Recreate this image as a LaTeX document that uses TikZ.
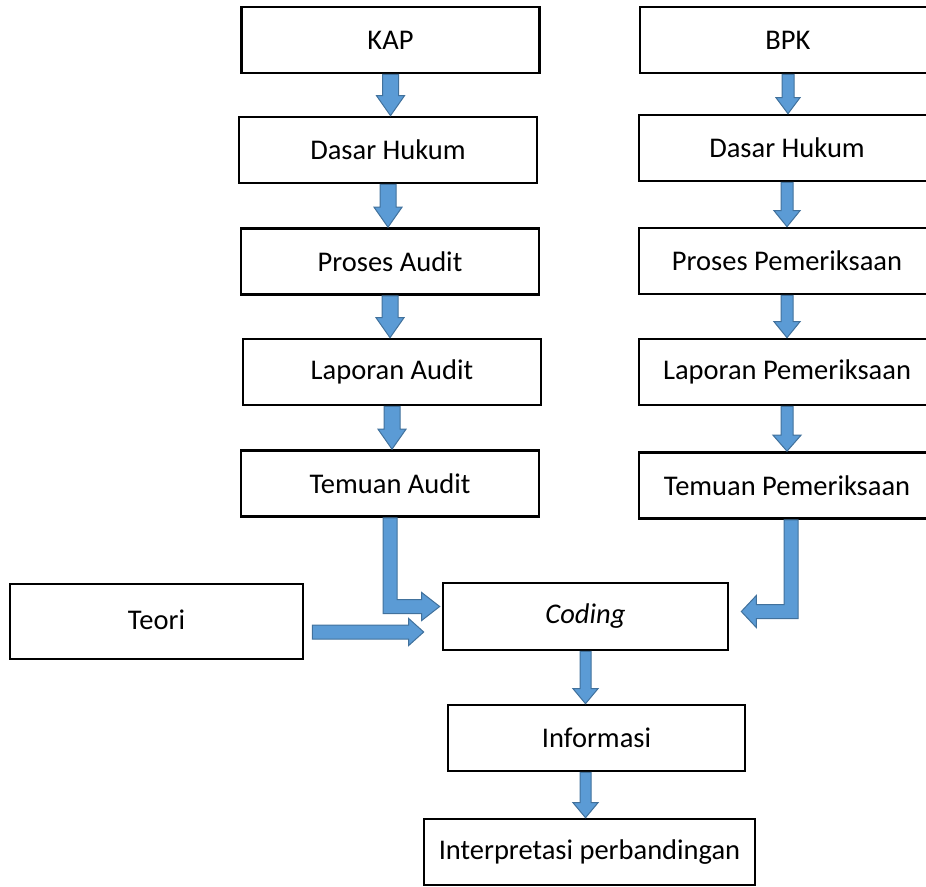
\documentclass[tikz,border=0pt]{standalone}
\usepackage{fontspec}
\setmainfont{Carlito}
\usepackage{tikz}
\usetikzlibrary{calc}

\definecolor{arrfill}{HTML}{5B9BD5}
\definecolor{arrline}{HTML}{41719C}

\tikzset{
  box/.style={draw, line width=2.6pt, minimum width=298pt, minimum height=66pt, inner sep=0pt, font=\fontsize{28.5}{33}\selectfont},
  blockarrow/.style={fill=arrfill, draw=arrline, line width=1pt, line join=miter}
}

% vertical block arrow: from, to, half shaft, half head, head length
\newcommand{\vblock}[5]{%
  \filldraw[blockarrow] let \p1=#1, \p2=#2 in
    (\x1-#3,\y1) -- (\x1+#3,\y1) -- (\x1+#3,\y2+#5) -- (\x1+#4,\y2+#5) -- (\x1,\y2)
    -- (\x1-#4,\y2+#5) -- (\x1-#3,\y2+#5) -- cycle;}
% horizontal block arrow to the right: from, to, half shaft, half head, head length
\newcommand{\hblock}[5]{%
  \filldraw[blockarrow] let \p1=#1, \p2=#2 in
    (\x1,\y1+#3) -- (\x2-#5,\y1+#3) -- (\x2-#5,\y1+#4) -- (\x2,\y1) -- (\x2-#5,\y1-#4)
    -- (\x2-#5,\y1-#3) -- (\x1,\y1-#3) -- cycle;}
% corner arrow, down then right
\newcommand{\lblockright}[2]{%
  \filldraw[blockarrow] let \p1=#1, \p2=#2 in
    (\x1-7pt,\y1) -- (\x1+7pt,\y1) -- (\x1+7pt,\y2+7pt) -- (\x2-18pt,\y2+7pt) -- (\x2-18pt,\y2+14pt)
    -- (\x2,\y2) -- (\x2-18pt,\y2-14pt) -- (\x2-18pt,\y2-7pt) -- (\x1-7pt,\y2-7pt) -- cycle;}
% corner arrow, down then left
\newcommand{\lblockleft}[2]{%
  \filldraw[blockarrow] let \p1=#1, \p2=#2 in
    (\x1+7pt,\y1) -- (\x1-7pt,\y1) -- (\x1-7pt,\y2+7pt) -- (\x2+15pt,\y2+7pt) -- (\x2+15pt,\y2+16pt)
    -- (\x2,\y2) -- (\x2+15pt,\y2-16pt) -- (\x2+15pt,\y2-7pt) -- (\x1+7pt,\y2-7pt) -- cycle;}

\begin{document}
\begin{tikzpicture}[x=1pt, y=-1pt]
	\useasboundingbox (0,0) rectangle (926,886);
	\clip (0,0) rectangle (926,886);

	% KAP column
	\node[box] (kap) at (390.5,40) {KAP};
	\node[box] (dh1) at (388,150) {Dasar Hukum};
	\node[box] (pa) at (390,261.5) {Proses Audit};
	\node[box] (la) at (392,372) {Laporan Audit};
	\node[box] (ta) at (390,483.5) {Temuan Audit};

	% BPK column
	\node[box, minimum width=296pt] (bpk) at (788,40) {BPK};
	\node[box, minimum width=296pt] (dh2) at (787,148) {Dasar Hukum};
	\node[box, minimum width=296pt] (pp) at (787,261) {Proses Pemeriksaan};
	\node[box, minimum width=296pt] (lp) at (787,372) {Laporan Pemeriksaan};
	\node[box, minimum width=296pt] (tp) at (787,485.5) {Temuan Pemeriksaan};

	% bottom part
	\node[box, minimum width=293pt, minimum height=75pt] (teori) at (156.5,621.5) {\raisebox{3pt}{Teori}};
	\node[box, minimum width=285pt, minimum height=67pt] (coding) at (585.5,616.5) {\textit{Coding}};
	\node[box, minimum width=297pt] (info) at (596.5,738) {Informasi};
	\node[box, minimum width=331pt] (interp) at (589.5,852) {Interpretasi perbandingan};

	\vblock{(kap.south)}{(dh1.north)}{8pt}{14pt}{20pt}
	\vblock{(dh1.south)}{(pa.north)}{8pt}{14pt}{20pt}
	\vblock{(pa.south)}{(la.north)}{8pt}{14pt}{20pt}
	\vblock{(la.south)}{(ta.north)}{8pt}{14pt}{20pt}

	\vblock{(bpk.south)}{(dh2.north)}{6pt}{12pt}{16pt}
	\vblock{(dh2.south)}{(pp.north)}{6pt}{13pt}{16pt}
	\vblock{(pp.south)}{(lp.north)}{6pt}{13pt}{16pt}
	\vblock{(lp.south)}{(tp.north)}{6pt}{14pt}{16pt}

	\coordinate (tpout) at ($(tp.south)+(4,0)$);
	\coordinate (codingin1) at ($(coding.west)+(-2,-10)$);
	\coordinate (codingin2) at ($(coding.east)+(12,-5)$);
	\coordinate (teoriout) at ($(teori.east)+(8,10.5)$);
	\coordinate (codingin3) at ($(coding.west)+(-18,15.5)$);
	\lblockright{(ta.south)}{(codingin1)}
	\lblockleft{(tpout)}{(codingin2)}
	\hblock{(teoriout)}{(codingin3)}{7pt}{13.5pt}{15pt}

	\vblock{(coding.south)}{(info.north)}{5.5pt}{12.5pt}{15pt}
	\vblock{(info.south -| coding.south)}{(interp.north)}{5.5pt}{12.5pt}{15pt}
\end{tikzpicture}
\end{document}
